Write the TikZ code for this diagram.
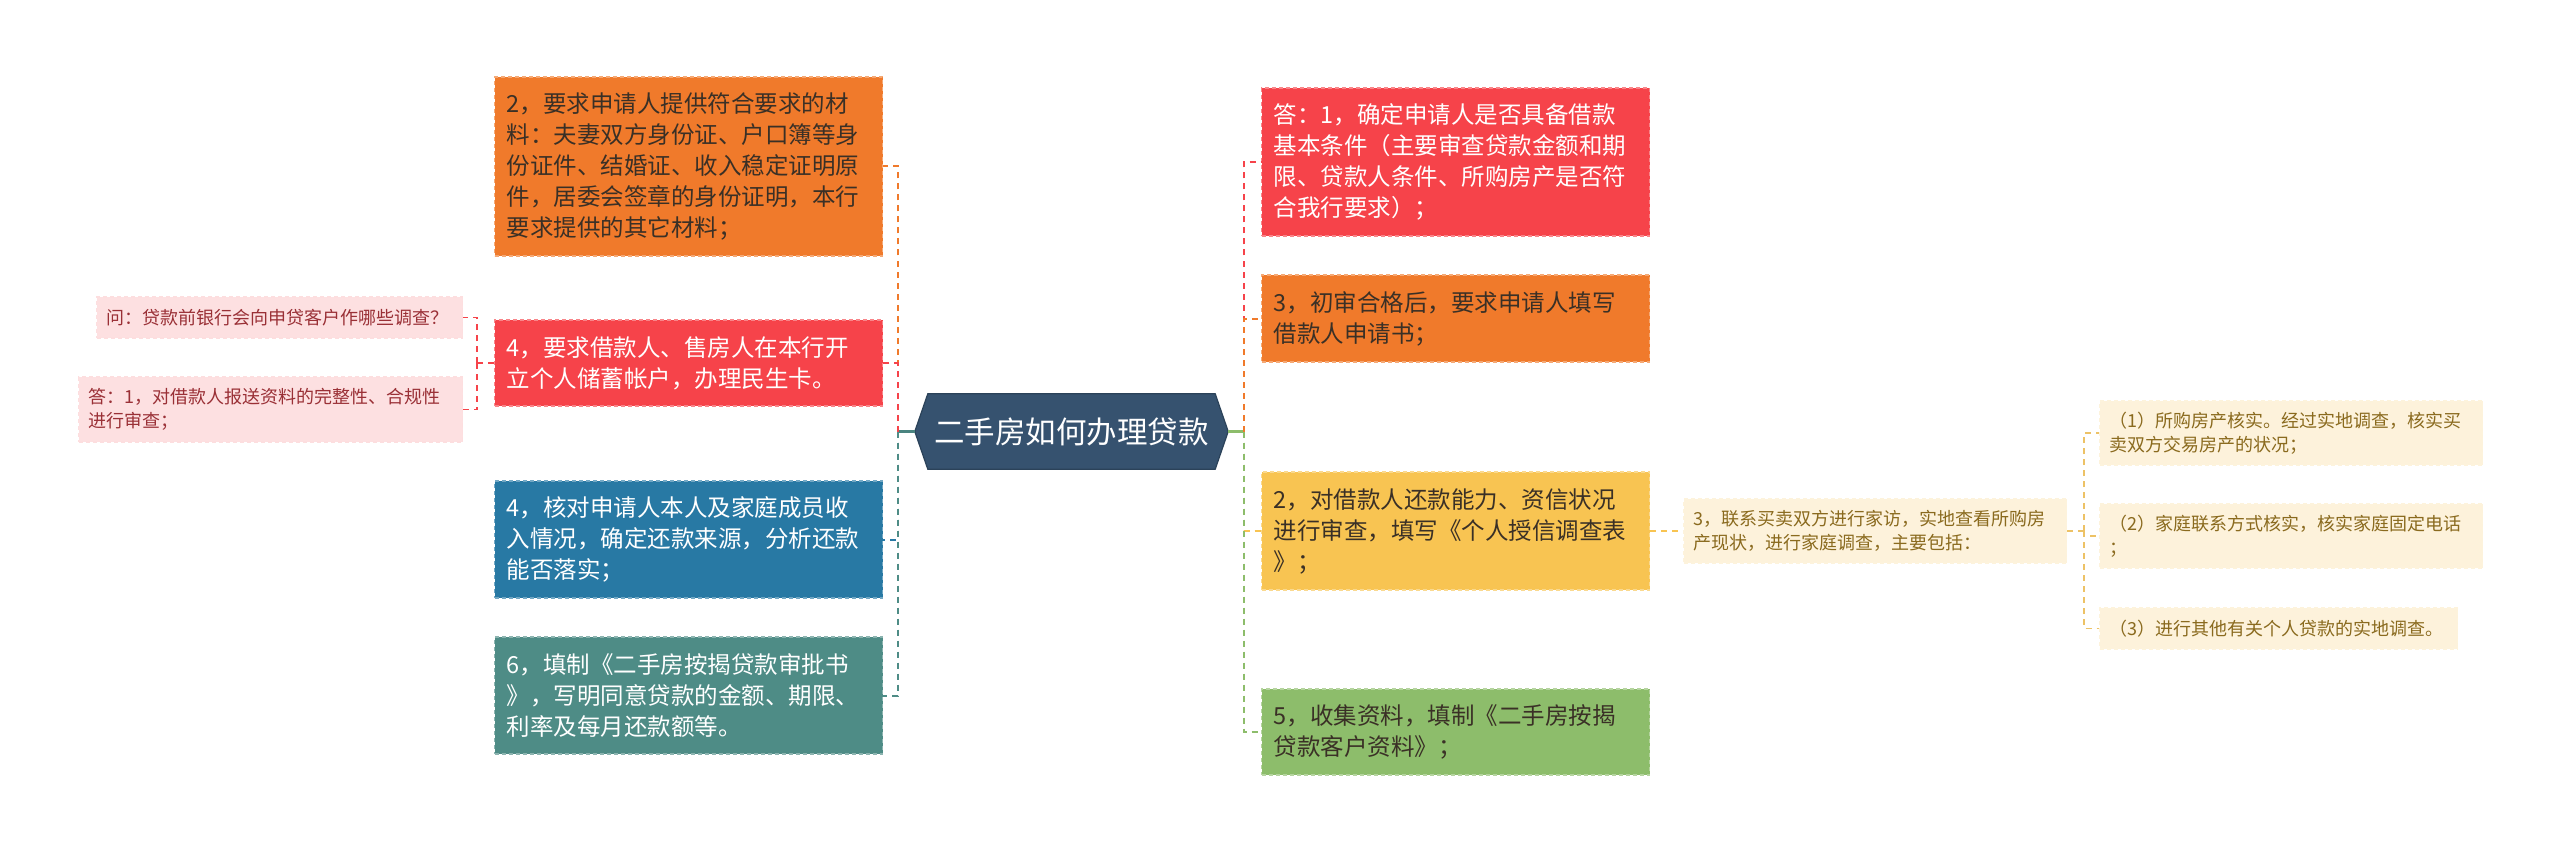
\documentclass[tikz,border=0pt]{standalone}
\usepackage{fontspec}
\setmainfont{Noto Sans CJK SC}
\usetikzlibrary{calc,backgrounds}
\definecolor{cOrange}{HTML}{F07A2B}
\definecolor{cRed}{HTML}{F6434A}
\definecolor{cBlue}{HTML}{2879A4}
\definecolor{cTeal}{HTML}{4E8C86}
\definecolor{cYellow}{HTML}{F8C452}
\definecolor{cGreen}{HTML}{8DBD6B}
\definecolor{cPink}{HTML}{FDE0E1}
\definecolor{cCream}{HTML}{FDF2DB}
\definecolor{cHex}{HTML}{36526F}
\definecolor{cHexLine}{HTML}{2B4259}
\definecolor{cDark}{HTML}{3A3026}
\definecolor{cPinkText}{HTML}{9A3036}
\definecolor{cCreamText}{HTML}{8A6A1E}
\definecolor{cGold}{HTML}{EDC266}
\definecolor{cStubL}{HTML}{4A8480}
\begin{document}
\begin{tikzpicture}[x=1pt,y=-1pt,
  box/.style={rectangle, dashed, dash pattern=on 4pt off 3pt, line width=1.2pt, align=left, anchor=west, inner ysep=0pt},
  big/.style={box, font=\fontsize{23.5}{31}\selectfont, inner xsep=12pt, text width=364pt},
  small/.style={box, font=\fontsize{18}{23.5}\selectfont, inner xsep=10pt},
  pinkbox/.style={small, fill=cPink, draw=cPink!85!cRed!60!white, text=cPinkText},
  creambox/.style={small, fill=cCream, draw=cCream!90!cYellow!70!white, text=cCreamText},
  link/.style={line width=2pt, dash pattern=on 6pt off 5pt},
  sublink/.style={line width=1.5pt, dash pattern=on 6pt off 5pt},
]
\useasboundingbox (0,0) rectangle (2560,853);

% central topic
\node[minimum width=313pt, minimum height=75pt, inner sep=0pt, text=white,
      font=\fontsize{30.5}{36}\selectfont] (hex) at (1071.5,431.5) {二手房如何办理贷款};
\begin{scope}[on background layer]
\fill[white] (0,0) rectangle (2560,853);
\filldraw[fill=cHex, draw=cHexLine, line width=1.2pt]
  (hex.west) -- ($(hex.north west)+(13,0)$) -- ($(hex.north east)+(-13,0)$) -- (hex.east)
  -- ($(hex.south east)+(-13,0)$) -- ($(hex.south west)+(13,0)$) -- cycle;
\end{scope}

% left main boxes
\node[big, fill=cOrange, draw=cOrange!65!white, text=cDark, minimum height=179pt] (l1) at (494,166.5)
  {2，要求申请人提供符合要求的材\\料：夫妻双方身份证、户口簿等身\\份证件、结婚证、收入稳定证明原\\件，居委会签章的身份证明，本行\\要求提供的其它材料；};
\node[big, fill=cRed, draw=cRed!65!white, text=white, minimum height=86pt] (l2) at (494,363)
  {4，要求借款人、售房人在本行开\\立个人储蓄帐户，办理民生卡。};
\node[big, fill=cBlue, draw=cBlue!65!white, text=white, minimum height=117pt] (l3) at (494,539.5)
  {4，核对申请人本人及家庭成员收\\入情况，确定还款来源，分析还款\\能否落实；};
\node[big, fill=cTeal, draw=cTeal!65!white, text=white, minimum height=117pt] (l4) at (494,695.5)
  {6，填制《二手房按揭贷款审批书\\》，写明同意贷款的金额、期限、\\利率及每月还款额等。};

% left sub boxes
\node[pinkbox, text width=346pt, minimum height=41pt] (q) at (96,317.5)
  {问：贷款前银行会向申贷客户作哪些调查？};
\node[pinkbox, text width=364pt, minimum height=65pt] (a) at (78,409.5)
  {答：1，对借款人报送资料的完整性、合规性\\进行审查；};

% right main boxes
\node[big, fill=cRed, draw=cRed!65!white, text=white, minimum height=148pt] (r1) at (1261,162)
  {答：1，确定申请人是否具备借款\\基本条件（主要审查贷款金额和期\\限、贷款人条件、所购房产是否符\\合我行要求）；};
\node[big, fill=cOrange, draw=cOrange!65!white, text=cDark, minimum height=87pt] (r2) at (1261,318.5)
  {3，初审合格后，要求申请人填写\\借款人申请书；};
\node[big, fill=cYellow, draw=cYellow!65!white, text=cDark, minimum height=118pt] (r3) at (1261,531)
  {2，对借款人还款能力、资信状况\\进行审查，填写《个人授信调查表\\》；};
\node[big, fill=cGreen, draw=cGreen!65!white, text=cDark, minimum height=86pt] (r4) at (1261,732)
  {5，收集资料，填制《二手房按揭\\贷款客户资料》；};

% right sub boxes
\node[creambox, text width=363pt, minimum height=64pt] (s3) at (1683,531)
  {3，联系买卖双方进行家访，实地查看所购房\\产现状，进行家庭调查，主要包括：};
\node[creambox, text width=363pt, minimum height=64pt] (s31) at (2099,433)
  {（1）所购房产核实。经过实地调查，核实买\\卖双方交易房产的状况；};
\node[creambox, text width=363pt, minimum height=64pt] (s32) at (2099,536)
  {（2）家庭联系方式核实，核实家庭固定电话\\；};
\node[creambox, text width=338pt, minimum height=41pt] (s33) at (2099,628.5)
  {（3）进行其他有关个人贷款的实地调查。};

% trunk coordinates
\coordinate (LT) at ($(hex.west)+(-17,0)$);
\coordinate (RT) at ($(hex.east)+(16,0)$);
\coordinate (LS) at ($(l2.west)+(-17,0)$);
\coordinate (RS) at ($(s3.east)+(17,0)$);

% left connectors
\draw[line width=2.5pt, cStubL] (hex.west) -- (LT);
\draw[link, cOrange] (LT) |- (l1.east);
\draw[link, cRed] (LT) |- (l2.east);
\draw[link, cBlue] (LT) |- (l3.east);
\draw[link, cTeal] (LT) |- (l4.east);

% right connectors
\draw[line width=2.5pt, cGreen] (hex.east) -- (RT);
\draw[link, cRed] (RT) |- (r1.west);
\draw[link, cOrange] (RT) |- (r2.west);
\draw[link, cYellow] (RT) |- (r3.west);
\draw[link, cGreen] (RT) |- (r4.west);

% sub connectors
\draw[sublink, cRed] (l2.west) -- (LS);
\draw[sublink, cRed] (LS) |- (q.east);
\draw[sublink, cRed] (LS) |- (a.east);
\draw[sublink, cYellow] (r3.east) -- (s3.west);
\draw[sublink, cGold] (s3.east) -- (RS);
\draw[sublink, cGold] (RS) |- (s31.west);
\draw[sublink, cGold] (RS) |- (s32.west);
\draw[sublink, cGold] (RS) |- (s33.west);
\end{tikzpicture}
\end{document}
